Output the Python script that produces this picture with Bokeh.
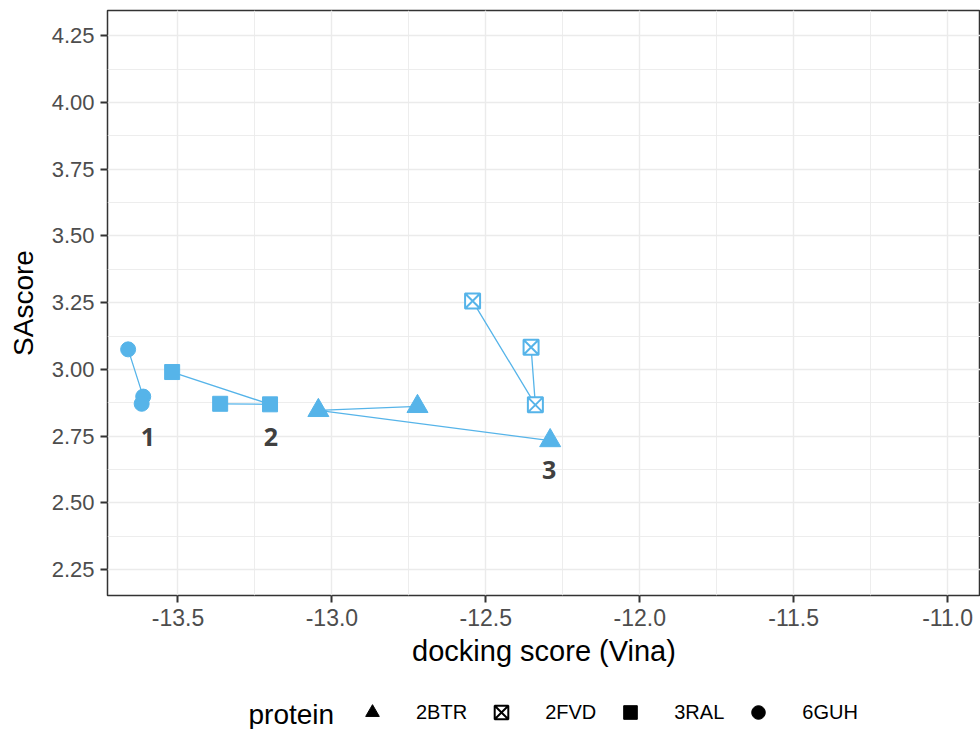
from bokeh.plotting import figure
from bokeh.layouts import column
from bokeh.models import (Legend, LegendItem, SingleIntervalTicker, Range1d,
                          ColumnDataSource, NumeralTickFormatter, Label)
from bokeh.core.properties import value
from bokeh.embed import file_html
from bokeh.resources import INLINE

# ---- data ----
proteins = ["2BTR", "2FVD", "3RAL", "6GUH"]
markers = ["triangle", "square_x", "square", "circle"]

btr_x = [-12.722, -13.044, -12.291]
btr_y = [2.861, 2.846, 2.733]
fvd_x = [-12.543, -12.339, -12.353]
fvd_y = [3.256, 2.867, 3.083]
ral_x = [-13.519, -13.201, -13.363]
ral_y = [2.990, 2.869, 2.871]
guh_x = [-13.662, -13.613, -13.618]
guh_y = [3.075, 2.898, 2.871]

label_text = ["1", "2", "3"]
label_x = [-13.598, -13.198, -12.294]
label_y = [2.745, 2.745, 2.621]

x_ticks_interval = 0.5
y_ticks_interval = 0.25

BLUE = "#56B4E9"
FONT = "Liberation Sans"

p = figure(width=980, height=672,
           x_range=Range1d(-13.729, -10.893), y_range=Range1d(2.1525, 4.345),
           output_backend="svg", toolbar_location=None,
           min_border_left=107, min_border_top=10, min_border_right=0,
           min_border_bottom=77,
           background_fill_color="white", border_fill_color="white")

p.outline_line_color = "#333333"
p.outline_line_width = 1.5

p.xaxis.ticker = SingleIntervalTicker(interval=x_ticks_interval, num_minor_ticks=2)
p.yaxis.ticker = SingleIntervalTicker(interval=y_ticks_interval, num_minor_ticks=2)
p.xaxis.formatter = NumeralTickFormatter(format="0.0")
p.yaxis.formatter = NumeralTickFormatter(format="0.00")

for ax in (p.xaxis, p.yaxis):
    ax.axis_line_color = None
    ax.major_tick_line_color = "#333333"
    ax.major_tick_line_width = 2
    ax.major_tick_out = 7
    ax.major_tick_in = 0
    ax.minor_tick_line_color = None
    ax.major_label_text_font = FONT
    ax.major_label_text_color = "#4D4D4D"
    ax.axis_label_text_font = FONT
    ax.axis_label_text_font_style = "normal"
    ax.axis_label_text_color = "black"

p.xaxis.major_label_text_font_size = "23px"
p.yaxis.major_label_text_font_size = "22px"
p.xaxis.axis_label_text_font_size = "29px"
p.yaxis.axis_label_text_font_size = "28px"
p.xaxis.axis_label = "docking score (Vina)"
p.yaxis.axis_label = "SAscore"
p.xaxis.major_label_standoff = 6
p.xaxis.axis_label_standoff = 6
p.yaxis.major_label_standoff = 6
p.yaxis.axis_label_standoff = 10

for g in (p.xgrid, p.ygrid):
    g.grid_line_color = "#EBEBEB"
    g.grid_line_width = 1.4
    g.minor_grid_line_color = "#EBEBEB"
    g.minor_grid_line_width = 0.9

series = [(btr_x, btr_y), (fvd_x, fvd_y), (ral_x, ral_y), (guh_x, guh_y)]
sizes = {"triangle": 21, "square_x": 15, "square": 15, "circle": 15}

for (xs, ys) in series:
    p.line(xs, ys, line_color=BLUE, line_width=1.3)

for (xs, ys), m in zip(series, markers):
    if m == "square_x":
        p.scatter(xs, ys, marker=m, size=sizes[m], fill_color="white",
                  line_color=BLUE, line_width=2)
    else:
        p.scatter(xs, ys, marker=m, size=sizes[m], fill_color=BLUE,
                  line_color=BLUE, line_width=1)

p.text(x=label_x, y=label_y, text=label_text, text_font=value("Open Sans"),
       text_font_style="bold", text_font_size="25px", text_color="#404040",
       text_align="center", text_baseline="middle")

# ---- legend strip below the plot (its frame is aligned with p's frame) ----
q = figure(width=980, height=57, x_range=Range1d(0, 873), y_range=Range1d(0, 57),
           output_backend="svg", toolbar_location=None,
           min_border_left=107, min_border_right=0, min_border_top=0,
           min_border_bottom=0, background_fill_color="white",
           border_fill_color="white")
q.axis.visible = False
q.grid.visible = False
q.outline_line_color = None

items = []
for name, m in zip(proteins, markers):
    src = ColumnDataSource(dict(x=[float("nan")], y=[float("nan")]))
    if m == "square_x":
        r = q.scatter("x", "y", source=src, marker=m, fill_color="white",
                      line_color="black", line_width=2)
    else:
        r = q.scatter("x", "y", source=src, marker=m, fill_color="black",
                      line_color="black")
    items.append(LegendItem(label=name, renderers=[r]))

legend = Legend(items=items, orientation="horizontal", location=(245, 0))
legend.label_text_font = FONT
legend.label_text_font_size = "20px"
legend.label_text_color = "black"
legend.label_standoff = 24
legend.glyph_width = 40
legend.glyph_height = 34
legend.spacing = 14
legend.padding = 0
legend.margin = 0
legend.border_line_color = None
legend.background_fill_alpha = 0
q.add_layout(legend, "center")

q.add_layout(Label(x=141, y=15, text="protein", text_font=FONT,
                   text_font_size="28px", text_color="black",
                   text_baseline="middle", text_align="left"))

layout = column(p, q, spacing=0)
open("out.html", "w").write(file_html(layout, INLINE))
